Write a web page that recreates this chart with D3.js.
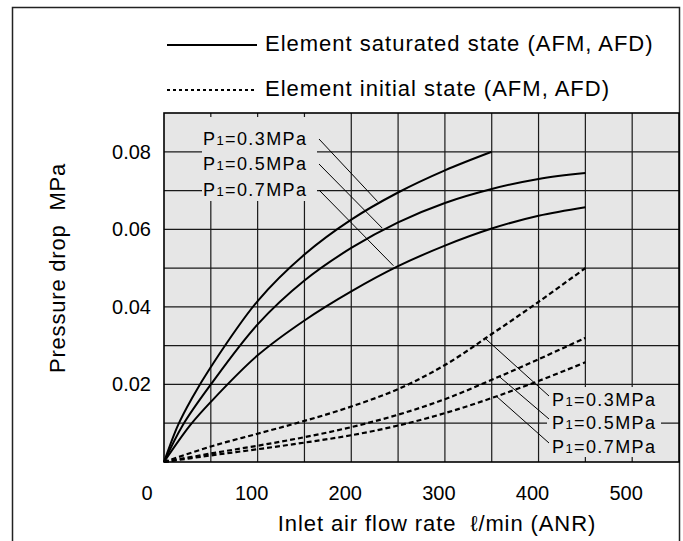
<!DOCTYPE html>
<html>
<head>
<meta charset="utf-8">
<script src="https://cdn.jsdelivr.net/npm/d3@7"></script>
<style>
  body { margin: 0; background: #fff; }
  svg { display: block; font-family: "Liberation Sans", Arial, sans-serif; }
  text { white-space: pre; }
</style>
</head>
<body>
<div id="chart"></div>
<script>
// Flow rate (l/min) vs pressure drop (MPa)
const xTicks = [0, 100, 200, 300, 400, 500];
const yTicks = [0.02, 0.04, 0.06, 0.08];
const pressures = ["0.3", "0.5", "0.7"];

// saturated element (solid)
const satFlow = [
  [0, 15, 30, 50, 100, 150, 200, 250, 300, 350],
  [0, 20, 50, 100, 150, 200, 250, 300, 350, 400, 450],
  [0, 28, 50, 100, 150, 200, 250, 300, 350, 400, 450]
];
const satDrop = [
  [0, 0.0095, 0.0165, 0.0245, 0.0415, 0.0535, 0.0625, 0.0695, 0.0752, 0.080],
  [0, 0.0095, 0.020, 0.0355, 0.0468, 0.0552, 0.0618, 0.0668, 0.0704, 0.0730, 0.0745],
  [0, 0.0095, 0.0155, 0.0275, 0.0365, 0.0440, 0.0505, 0.0558, 0.0602, 0.0635, 0.0657]
];

// initial element (dashed)
const iniFlow = [0, 50, 100, 150, 200, 250, 300, 350, 400, 450];
const iniDrop = [
  [0, 0.0040, 0.0073, 0.0106, 0.0143, 0.0188, 0.0250, 0.0330, 0.0413, 0.050],
  [0, 0.0022, 0.0042, 0.0064, 0.0090, 0.0122, 0.0162, 0.0212, 0.0265, 0.032],
  [0, 0.0017, 0.0033, 0.0050, 0.0069, 0.0094, 0.0126, 0.0165, 0.0209, 0.0257]
];

// where the label leaders touch the curves (flow value)
const satLeaderAt = [228, 233, 245];
const iniLeaderAt = [343, 358, 355];

const width = 683, height = 541;
const plot = { left: 164, right: 679, top: 113, bottom: 462 };

const svg = d3.select("#chart").append("svg")
  .attr("width", width).attr("height", height);

const x = d3.scaleLinear().domain([0, 550]).range([plot.left, plot.right]);
const y = d3.scaleLinear().domain([0, 0.09]).range([plot.bottom, plot.top]);

// outer frame
svg.append("path")
  .attr("d", `M12.5,541 V7.5 H679.5 V541`)
  .attr("fill", "none").attr("stroke", "#222").attr("stroke-width", 1.5);

// plot background
svg.append("rect")
  .attr("x", plot.left).attr("y", plot.top)
  .attr("width", plot.right - plot.left).attr("height", plot.bottom - plot.top)
  .attr("fill", "#e6e6e6");

// grid
const grid = svg.append("g").attr("stroke", "#1a1a1a").attr("stroke-width", 1.2);
grid.selectAll("line.v").data(d3.range(50, 550, 50)).join("line")
  .attr("x1", d => x(d)).attr("x2", d => x(d))
  .attr("y1", plot.top).attr("y2", plot.bottom);
grid.selectAll("line.h").data(d3.range(1, 9).map(i => i * 0.01)).join("line")
  .attr("y1", d => y(d)).attr("y2", d => y(d))
  .attr("x1", plot.left).attr("x2", plot.right);

// label masks (hide the grid behind the P1 labels)
svg.append("rect").attr("x", 202).attr("y", 117).attr("width", 115).attr("height", 84).attr("fill", "#e6e6e6");
svg.append("rect").attr("x", 547).attr("y", 387).attr("width", 114).attr("height", 70).attr("fill", "#e6e6e6");

// plot border
svg.append("rect")
  .attr("x", plot.left).attr("y", plot.top)
  .attr("width", plot.right - plot.left).attr("height", plot.bottom - plot.top)
  .attr("fill", "none").attr("stroke", "#000").attr("stroke-width", 1.6);

// axis labels
svg.append("g").selectAll("text").data(xTicks).join("text")
  .attr("x", d => x(d) + (d === 0 ? -17 : -6))
  .attr("y", 493)
  .attr("dy", "0.35em")
  .attr("text-anchor", "middle")
  .attr("font-size", 20)
  .text(d => d);

svg.append("g").selectAll("text").data(yTicks).join("text")
  .attr("x", 151)
  .attr("y", d => y(d))
  .attr("dy", "0.35em")
  .attr("text-anchor", "end")
  .attr("font-size", 20)
  .text(d => d.toFixed(2));

svg.append("text")
  .attr("transform", "translate(65,268) rotate(-90)")
  .attr("text-anchor", "middle")
  .attr("font-size", 22)
  .attr("letter-spacing", 0.8)
  .text("Pressure drop  MPa");

svg.append("text")
  .attr("x", 437).attr("y", 531)
  .attr("text-anchor", "middle")
  .attr("font-size", 22)
  .attr("letter-spacing", 0.9)
  .text("Inlet air flow rate  ℓ/min (ANR)");

// curves
const line = d3.line().x(d => x(d[0])).y(d => y(d[1])).curve(d3.curveCatmullRom.alpha(0.5));
const curves = svg.append("g").attr("fill", "none").attr("stroke", "#000");

satFlow.forEach((xs, i) => {
  curves.append("path")
    .attr("d", line(xs.map((v, j) => [v, satDrop[i][j]])))
    .attr("stroke-width", 2);
});
iniDrop.forEach(ys => {
  curves.append("path")
    .attr("d", line(iniFlow.map((v, j) => [v, ys[j]])))
    .attr("stroke-width", 2.2)
    .attr("stroke-dasharray", "5,3");
});

// value on a curve at a flow value (linear between read points)
function dropAt(xs, ys, v) {
  return d3.scaleLinear().domain(xs).range(ys)(v);
}

// P1 labels + leaders
function pLabel(g, tx, ty, p) {
  const t = g.append("text").attr("x", tx).attr("y", ty).attr("dy", "0.35em")
    .attr("font-size", 18).attr("letter-spacing", 1.4);
  t.append("tspan").text("P");
  t.append("tspan").attr("font-size", 13).text("1");
  t.append("tspan").text("=" + p + "MPa");
}

const labels = svg.append("g");
const leaders = svg.append("g").attr("stroke", "#000").attr("stroke-width", 1);
const topRows = [139, 164, 190];
const botRows = [400, 423, 447];

pressures.forEach((p, i) => {
  pLabel(labels, 203, topRows[i], p);
  const v = satLeaderAt[i];
  leaders.append("line")
    .attr("x1", 319).attr("y1", topRows[i])
    .attr("x2", x(v)).attr("y2", y(dropAt(satFlow[i], satDrop[i], v)) - 3);

  pLabel(labels, 552, botRows[i], p);
  const w = iniLeaderAt[i];
  leaders.append("line")
    .attr("x1", 549).attr("y1", botRows[i] - 4)
    .attr("x2", x(w)).attr("y2", y(dropAt(iniFlow, iniDrop[i], w)));
});

// legend
const legend = svg.append("g");
legend.append("line").attr("x1", 167).attr("x2", 257).attr("y1", 45).attr("y2", 45)
  .attr("stroke", "#000").attr("stroke-width", 2);
legend.append("line").attr("x1", 167).attr("x2", 257).attr("y1", 90).attr("y2", 90)
  .attr("stroke", "#000").attr("stroke-width", 2).attr("stroke-dasharray", "3,3");
legend.append("text").attr("x", 265).attr("y", 51)
  .attr("font-size", 22).attr("letter-spacing", 1.0)
  .text("Element saturated state (AFM, AFD)");
legend.append("text").attr("x", 265).attr("y", 96)
  .attr("font-size", 22).attr("letter-spacing", 1.0)
  .text("Element initial state (AFM, AFD)");
</script>
</body>
</html>
